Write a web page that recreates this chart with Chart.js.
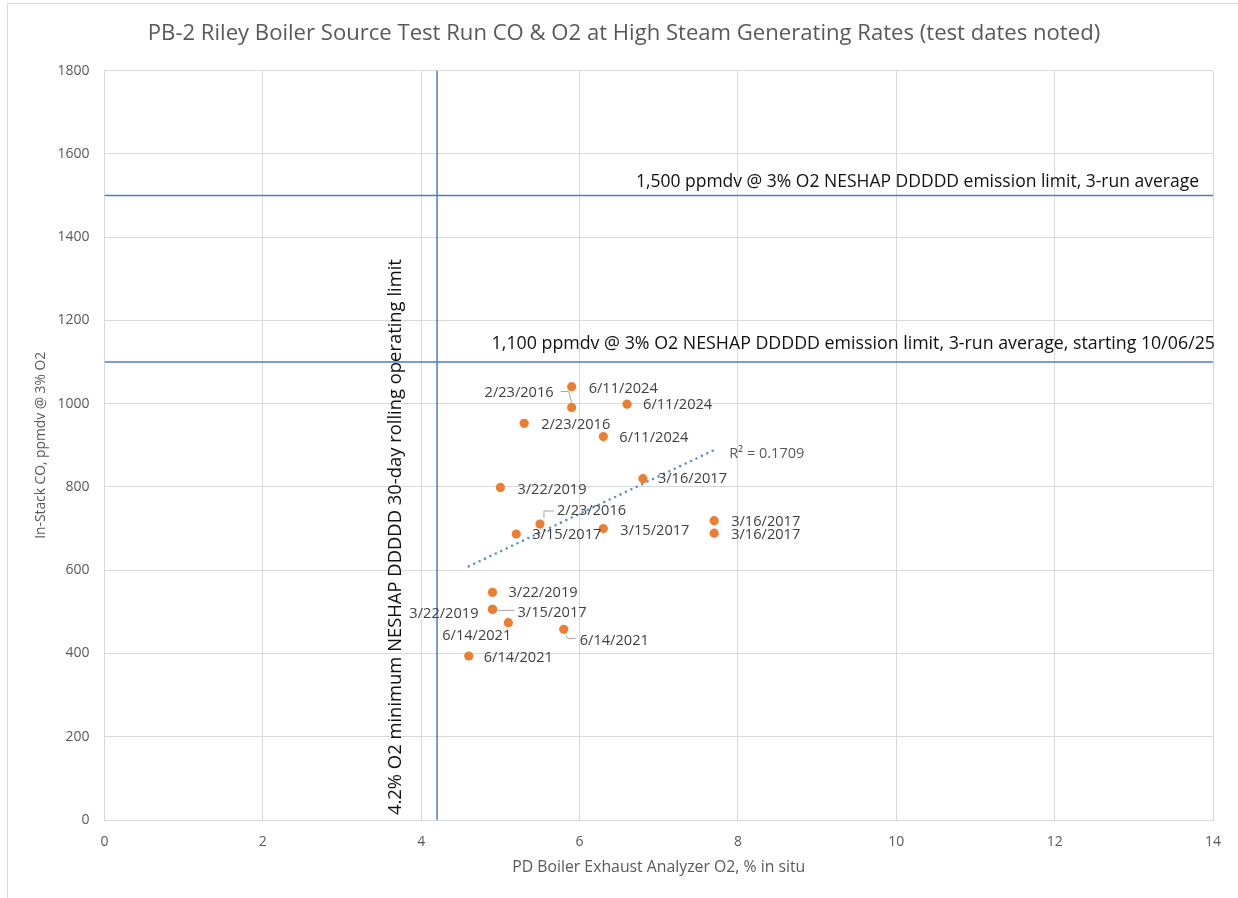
<!DOCTYPE html>
<html>
<head>
<meta charset="utf-8">
<script src="https://cdn.jsdelivr.net/npm/chart.js@4/dist/chart.umd.min.js"></script>
<style>
  html, body { margin: 0; padding: 0; background: #ffffff; }
  #wrap { position: relative; width: 1238px; height: 898px; }
  canvas { display: block; }
</style>
</head>
<body>
<div id="wrap"><canvas id="c" width="1238" height="898"></canvas></div>
<script>
// Source test runs: exhaust O2 (%) and stack CO (ppmdv @ 3% O2), one entry per run
const o2Pct = [5.9, 5.9, 6.6, 5.3, 6.3, 6.8, 5.0, 5.5, 5.2, 6.3, 7.7, 7.7, 4.9, 4.9, 4.9, 5.1, 5.8, 4.6];
const coPpm = [1041, 991, 999, 953, 921, 820, 799, 711, 687, 700, 719, 689, 547, 506, 506, 474, 458, 394];
const testDates = ['6/11/2024', '2/23/2016', '6/11/2024', '2/23/2016', '6/11/2024', '3/16/2017',
                   '3/22/2019', '2/23/2016', '3/15/2017', '3/15/2017', '3/16/2017', '3/16/2017',
                   '3/22/2019', '3/22/2019', '3/15/2017', '6/14/2021', '6/14/2021', '6/14/2021'];

// Regulatory limits
const coLimitCurrent = 1500;
const coLimitFuture = 1100;
const o2MinLimit = 4.2;

// Axis ranges and tick steps
const xRange = [0, 14];
const yRange = [0, 1800];
const xStep = 2;
const yStep = 200;

const chartTitle = 'PB-2 Riley Boiler Source Test Run CO & O2 at High Steam Generating Rates (test dates noted)';
const trendR2Text = 'R² = 0.1709';

// Data-label placement for each run: offset from the marker (px), alignment, optional leader line
const labelPlacement = [
  { dx: 17, dy: 2, align: 'left' },
  { dx: -18, dy: -15, align: 'right', leader: [[-11, -16], [-3, -16], [0, -5]] },
  { dx: 16, dy: 1, align: 'left' },
  { dx: 17, dy: 2, align: 'left' },
  { dx: 16, dy: 1, align: 'left' },
  { dx: 15, dy: 0, align: 'left' },
  { dx: 17, dy: 2, align: 'left' },
  { dx: 17, dy: -13, align: 'left', leader: [[14, -13], [4, -13], [4, -6]] },
  { dx: 16, dy: 1, align: 'left' },
  { dx: 17, dy: 2, align: 'left' },
  { dx: 17, dy: 1, align: 'left' },
  { dx: 17, dy: 2, align: 'left' },
  { dx: 16, dy: 1, align: 'left' },
  { dx: -14, dy: 4, align: 'right' },
  { dx: 25, dy: 3, align: 'left', leader: [[5, 1], [22, 1]] },
  { dx: 3, dy: 13, align: 'right' },
  { dx: 16, dy: 11, align: 'left', leader: [[2, 6], [4, 9], [12, 9]] },
  { dx: 15, dy: 2, align: 'left' }
];

const FONT = "'Open Sans', 'DejaVu Sans', sans-serif";

const runPoints = o2Pct.map((x, i) => ({ x: x, y: coPpm[i] }));

// Least-squares linear trend over the runs, drawn across the observed O2 range
function linearTrend(xs, ys) {
  const n = xs.length;
  const mx = xs.reduce((a, b) => a + b, 0) / n;
  const my = ys.reduce((a, b) => a + b, 0) / n;
  let sxy = 0, sxx = 0;
  for (let i = 0; i < n; i++) {
    sxy += (xs[i] - mx) * (ys[i] - my);
    sxx += (xs[i] - mx) * (xs[i] - mx);
  }
  const slope = sxy / sxx;
  const icpt = my - slope * mx;
  const x0 = Math.min(...xs), x1 = Math.max(...xs);
  return [{ x: x0, y: icpt + slope * x0 }, { x: x1, y: icpt + slope * x1 }];
}
const trendPoints = linearTrend(o2Pct, coPpm);

// Title, labels, leader lines, limit captions, R² text and the outer frame
const overlayPlugin = {
  id: 'overlay',
  beforeDraw(chart) {
    const ctx = chart.ctx;
    ctx.save();
    ctx.fillStyle = '#ffffff';
    ctx.fillRect(0, 0, chart.width, chart.height);
    ctx.strokeStyle = '#d9d9d9';
    ctx.lineWidth = 1;
    ctx.strokeRect(7.5, 3.5, chart.width + 10, chart.height + 10);

    ctx.fillStyle = '#595959';
    ctx.font = `22.1px ${FONT}`;
    ctx.textAlign = 'center';
    ctx.textBaseline = 'middle';
    ctx.fillText(chartTitle, 624, 34);
    ctx.restore();
  },
  afterDatasetsDraw(chart) {
    const ctx = chart.ctx;
    const xs = chart.scales.x, ys = chart.scales.y;
    ctx.save();

    // limit captions
    ctx.fillStyle = '#111111';
    ctx.font = `17.5px ${FONT}`;
    ctx.textBaseline = 'middle';
    ctx.textAlign = 'right';
    ctx.fillText('1,500 ppmdv @ 3% O2 NESHAP DDDDD emission limit, 3-run average',
      xs.getPixelForValue(xRange[1]) - 14, ys.getPixelForValue(coLimitCurrent) - 14);
    ctx.font = `17.8px ${FONT}`;
    ctx.fillText('1,100 ppmdv @ 3% O2 NESHAP DDDDD emission limit, 3-run average, starting 10/06/25',
      xs.getPixelForValue(xRange[1]) + 2, ys.getPixelForValue(coLimitFuture) - 18);

    ctx.save();
    ctx.translate(xs.getPixelForValue(o2MinLimit) - 41, ys.getPixelForValue(0) - 5);
    ctx.rotate(-Math.PI / 2);
    ctx.textAlign = 'left';
    ctx.font = `18.4px ${FONT}`;
    ctx.fillText('4.2% O2 minimum NESHAP DDDDD 30-day rolling operating limit', 0, 0);
    ctx.restore();

    // trend caption
    const tEnd = trendPoints[1];
    ctx.fillStyle = '#595959';
    ctx.font = `14.5px ${FONT}`;
    ctx.textAlign = 'left';
    ctx.fillText(trendR2Text, xs.getPixelForValue(tEnd.x) + 15, ys.getPixelForValue(tEnd.y) + 4);

    // run date labels
    const meta = chart.getDatasetMeta(0);
    meta.data.forEach((pt, i) => {
      const p = labelPlacement[i];
      if (p.leader) {
        ctx.strokeStyle = '#a6a6a6';
        ctx.lineWidth = 1;
        ctx.beginPath();
        p.leader.forEach(([lx, ly], k) => {
          const px = pt.x + lx, py = pt.y + ly;
          if (k === 0) ctx.moveTo(px, py); else ctx.lineTo(px, py);
        });
        ctx.stroke();
      }
      ctx.fillStyle = '#404040';
      ctx.font = `14.6px ${FONT}`;
      ctx.textAlign = p.align;
      ctx.textBaseline = 'middle';
      ctx.fillText(testDates[i], pt.x + p.dx, pt.y + p.dy);
    });
    ctx.restore();
  }
};

const limitLine = (pts) => ({
  type: 'line',
  data: pts,
  borderColor: '#4f7cc2',
  borderWidth: 1.5,
  pointRadius: 0,
  fill: false,
  order: 3
});

new Chart(document.getElementById('c'), {
  type: 'scatter',
  data: {
    datasets: [
      {
        label: 'CO vs O2',
        data: runPoints,
        backgroundColor: '#ED7D31',
        borderWidth: 0,
        pointRadius: 4.6,
        pointHoverRadius: 4.6,
        order: 0
      },
      {
        type: 'line',
        label: 'Linear trend',
        data: trendPoints,
        borderColor: '#5B8FD0',
        borderWidth: 2.6,
        borderDash: [0, 6],
        borderCapStyle: 'round',
        pointRadius: 0,
        fill: false,
        order: 1
      },
      limitLine([{ x: xRange[0], y: coLimitCurrent }, { x: xRange[1], y: coLimitCurrent }]),
      limitLine([{ x: xRange[0], y: coLimitFuture }, { x: xRange[1], y: coLimitFuture }]),
      limitLine([{ x: o2MinLimit, y: yRange[0] }, { x: o2MinLimit, y: yRange[1] }])
    ]
  },
  options: {
    responsive: false,
    animation: false,
    devicePixelRatio: 1,
    layout: { padding: { left: 0, right: 25, top: 70.7, bottom: 0 } },
    plugins: {
      legend: { display: false },
      tooltip: { enabled: false },
      title: { display: false }
    },
    scales: {
      x: {
        type: 'linear',
        min: xRange[0],
        max: xRange[1],
        ticks: { stepSize: xStep, color: '#595959', font: { family: FONT, size: 14 }, padding: 14,
                 callback: (v) => String(v) },
        grid: { color: '#d9d9d9', drawTicks: false },
        border: { color: '#d9d9d9' },
        title: {
          display: true,
          text: 'PD Boiler Exhaust Analyzer O2, % in situ',
          color: '#595959',
          font: { family: FONT, size: 15.8 },
          padding: { top: 0, bottom: 21 }
        },
        afterFit(s) { s.height = 78; }
      },
      y: {
        type: 'linear',
        min: yRange[0],
        max: yRange[1],
        ticks: { stepSize: yStep, color: '#595959', font: { family: FONT, size: 14 }, padding: 15,
                 callback: (v) => String(v) },
        grid: { color: '#d9d9d9', drawTicks: false },
        border: { color: '#d9d9d9' },
        title: {
          display: true,
          text: 'In-Stack CO, ppmdv @ 3% O2',
          color: '#595959',
          font: { family: FONT, size: 13.8 },
          padding: { top: 32.5, bottom: 0 }
        },
        afterFit(s) { s.width = 104.5; }
      }
    }
  },
  plugins: [overlayPlugin]
});
</script>
</body>
</html>
